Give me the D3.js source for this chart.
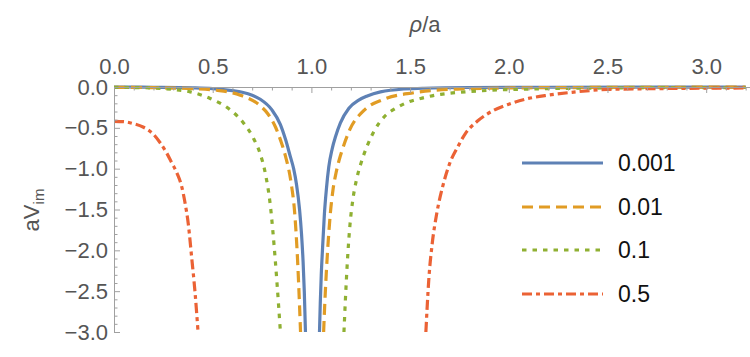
<!DOCTYPE html>
<html><head><meta charset="utf-8">
<script src="https://cdn.jsdelivr.net/npm/d3@7"></script>
<style>
body{margin:0;background:#fff;}
svg{display:block;font-family:"Liberation Sans",Arial,sans-serif;}
</style></head>
<body><svg id="c" width="750" height="357"></svg>
<script>
// ---- data ----
const seriesNames = ["0.001", "0.01", "0.1", "0.5"];
const rho001 = [0,0.2,0.4,0.5,0.6,0.65,0.7,0.741,0.8,0.843,0.87,0.893,0.91,0.925,0.94,0.95,0.958,0.964,0.97, NaN,
  1.041,1.045,1.05,1.056,1.066,1.076,1.088,1.105,1.122,1.147,1.19,1.24,1.283,1.35,1.4,1.57,1.8,2.2,2.7,3.2];
const v001 = [0,-0.003,-0.01,-0.02,-0.045,-0.065,-0.1,-0.15,-0.28,-0.46,-0.65,-0.85,-1.0,-1.2,-1.5,-1.8,-2.14,-2.5,-3.0, NaN,
  -3.0,-2.65,-2.3,-2.0,-1.55,-1.25,-0.98,-0.76,-0.61,-0.44,-0.26,-0.16,-0.11,-0.06,-0.04,-0.015,-0.006,-0.003,-0.002,-0.001];
const rho01 = [0,0.2,0.4,0.52,0.64,0.741,0.78,0.818,0.845,0.868,0.897,0.915,0.93,0.94,0.945, NaN,
  1.062,1.067,1.075,1.085,1.096,1.11,1.125,1.14,1.155,1.195,1.265,1.367,1.52,1.74,2.0,2.5,3.2];
const v01 = [-0.004,-0.008,-0.02,-0.04,-0.10,-0.23,-0.33,-0.49,-0.66,-0.84,-1.17,-1.53,-2.12,-2.68,-3.0, NaN,
  -3.0,-2.7,-2.3,-1.9,-1.55,-1.25,-1.05,-0.9,-0.78,-0.52,-0.29,-0.15,-0.07,-0.025,-0.012,-0.005,-0.002];
const rho1 = [0,0.1,0.2,0.3,0.386,0.487,0.589,0.656,0.707,0.741,0.766,0.792,0.817,0.834,0.843, NaN,
  1.165,1.172,1.182,1.195,1.21,1.228,1.249,1.283,1.32,1.367,1.435,1.485,1.553,1.655,1.75,1.909,2.1,2.5,3.2];
const v1 = [-0.005,-0.007,-0.012,-0.03,-0.06,-0.14,-0.28,-0.44,-0.63,-0.82,-1.05,-1.45,-2.12,-2.68,-3.0, NaN,
  -3.0,-2.62,-2.15,-1.7,-1.38,-1.14,-0.95,-0.72,-0.53,-0.37,-0.25,-0.19,-0.14,-0.09,-0.065,-0.04,-0.025,-0.012,-0.006];
const rho5 = [0,0.05,0.1,0.147,0.2,0.233,0.265,0.293,0.32,0.343,0.36,0.376,0.394,0.41,0.425, NaN,
  1.58,1.595,1.612,1.635,1.665,1.7,1.74,1.78,1.84,1.92,2.0,2.1,2.2,2.32,2.5,2.75,3.0,3.2];
const v5 = [-0.42,-0.425,-0.45,-0.49,-0.58,-0.68,-0.80,-0.93,-1.06,-1.22,-1.42,-1.67,-2.10,-2.50,-2.97, NaN,
  -3.0,-2.35,-1.92,-1.55,-1.22,-0.94,-0.74,-0.57,-0.42,-0.29,-0.21,-0.14,-0.10,-0.065,-0.03,-0.02,-0.015,-0.012];
const xMajorTicks = [0,0.5,1.0,1.5,2.0,2.5,3.0];
const yMajorTicks = [0,-0.5,-1.0,-1.5,-2.0,-2.5,-3.0];

// ---- style ----
const colors = ["#5E81B5","#E19C24","#8FB032","#EB6235"];
const dashes = [null,"11,6","4.5,6","10,4,4,4"];
const seriesData = [[rho001,v001],[rho01,v01],[rho1,v1],[rho5,v5]];

const svg = d3.select("#c");
const x = d3.scaleLinear().domain([0,3.22]).range([114,749.6]);
const y = d3.scaleLinear().domain([-3,0]).range([332,87]);

const axisColor = "#a0a0a0", labelColor = "#555";

svg.append("clipPath").attr("id","clip").append("rect")
  .attr("x",114).attr("y",80).attr("width",640).attr("height",252.5);

const line = d3.line().defined(d=>!isNaN(d[0]) && !isNaN(d[1]))
  .x(d=>x(d[0])).y(d=>y(d[1])).curve(d3.curveMonotoneX);
const g = svg.append("g").attr("clip-path","url(#clip)");
seriesData.forEach((s,i)=>{
  const pts = s[0].map((r,k)=>[r,s[1][k]]);
  g.append("path").datum(pts).attr("d",line)
    .attr("fill","none").attr("stroke",colors[i]).attr("stroke-width",3.2)
    .attr("stroke-dasharray",dashes[i]);
});

const xMinor = d3.range(0,3.21,0.1).map(v=>+v.toFixed(1)).filter(v=>!xMajorTicks.some(m=>Math.abs(m-v)<1e-9));
const yMinor = d3.range(0,-3.01,-0.1).map(v=>+v.toFixed(1)).filter(v=>!yMajorTicks.some(m=>Math.abs(m-v)<1e-9));
const fmt = d3.format(".1f");

function styleAxis(sel){
  sel.select(".domain").attr("stroke",axisColor).attr("stroke-width",1);
  sel.selectAll(".tick line").attr("stroke",axisColor);
  sel.selectAll(".tick text").attr("fill",labelColor).attr("font-size",22)
     .attr("font-family","Liberation Sans, Arial, sans-serif");
}
const gxMinor = svg.append("g").attr("transform","translate(0,87)")
  .call(d3.axisTop(x).tickValues(xMinor).tickSize(-3.5).tickSizeOuter(0).tickFormat(""));
styleAxis(gxMinor); gxMinor.select(".domain").remove();
const gx = svg.append("g").attr("transform","translate(0,87)")
  .call(d3.axisTop(x).tickValues(xMajorTicks).tickSize(-6).tickSizeOuter(0).tickPadding(13).tickFormat(fmt));
styleAxis(gx);

const gyMinor = svg.append("g").attr("transform","translate(114,0)")
  .call(d3.axisLeft(y).tickValues(yMinor).tickSize(-3.5).tickSizeOuter(0).tickFormat(""));
styleAxis(gyMinor); gyMinor.select(".domain").remove();
const gy = svg.append("g").attr("transform","translate(114,0)")
  .call(d3.axisLeft(y).tickValues(yMajorTicks).tickSize(-6).tickSizeOuter(0).tickPadding(6).tickFormat(fmt));
styleAxis(gy);

const tx = svg.append("text").attr("x",425).attr("y",32).attr("text-anchor","middle")
  .attr("fill",labelColor).attr("font-size",22);
tx.append("tspan").attr("font-style","italic").text("ρ");
tx.append("tspan").text("/a");

const ty = svg.append("text").attr("transform","translate(39,210) rotate(-90)")
  .attr("text-anchor","middle").attr("fill",labelColor).attr("font-size",22);
ty.append("tspan").text("aV");
ty.append("tspan").attr("font-size",15).attr("dy",5).text("im");

const legY = [163,207,250,294];
seriesNames.forEach((nm,i)=>{
  svg.append("line").attr("x1",522).attr("x2",603).attr("y1",legY[i]).attr("y2",legY[i])
    .attr("stroke",colors[i]).attr("stroke-width",3.2).attr("stroke-dasharray",dashes[i]);
  svg.append("text").attr("x",618).attr("y",legY[i]).attr("dy","0.36em")
    .attr("font-size",23).attr("fill","#111").text(nm);
});
</script></body></html>
